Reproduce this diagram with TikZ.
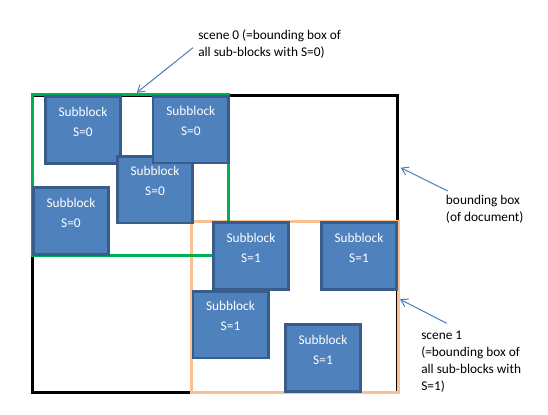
\documentclass[tikz,border=0pt]{standalone}
\usepackage{fontspec}
\setmainfont{Carlito}
\usetikzlibrary{arrows.meta}
\definecolor{blkfill}{HTML}{4F81BD}
\definecolor{blkline}{HTML}{385D8A}
\definecolor{ptrcol}{HTML}{4A7EBB}
\definecolor{scenegreen}{HTML}{00B050}
\definecolor{sceneorange}{HTML}{FAC090}
\tikzset{
  subblock/.style={draw=blkline, fill=blkfill, line width=1.9pt, minimum width=56.6pt, minimum height=49.9pt, inner sep=0pt},
  blocktext/.style={text=white, align=center, inner sep=0pt, font=\fontsize{10}{15}\selectfont},
  note/.style={text=black, align=left, inner sep=0pt, anchor=west, font=\fontsize{10}{12.8}\selectfont},
  boxline/.style={line width=2.25pt},
  pointer/.style={draw=ptrcol, line width=0.75pt, -{Straight Barb[length=5pt,width=6.5pt]}}
}
\begin{document}
\begin{tikzpicture}[x=0.75pt,y=-0.75pt]
\useasboundingbox (0,0) rectangle (548,414);
% bounding box of document
\draw[boxline, black] (32.5,95) rectangle (397.5,392);
% scene 1 box
\draw[boxline, sceneorange] (191.7,221) rectangle (398,392);
% scene 0 box
\draw[boxline, scenegreen] (32.5,94) rectangle (228.8,255);
% subblocks S=0
\node[subblock] (b1) at (83,130) {};
\node[blocktext] (t1) at (83,121.5) {Subblock\\S=0};
\node[subblock] (b3) at (155,189.5) {};
\node[blocktext] (t3) at (155,181) {Subblock\\S=0};
\node[subblock] (b2) at (190.8,129.5) {};
\node[blocktext] (t2) at (190.8,121) {Subblock\\S=0};
\node[subblock] (b4) at (71,221) {};
\node[blocktext] (t4) at (71,212.5) {Subblock\\S=0};
% subblocks S=1
\node[subblock] (b5) at (251,256) {};
\node[blocktext] (t5) at (251,247.5) {Subblock\\S=1};
\node[subblock] (b6) at (359,256) {};
\node[blocktext] (t6) at (359,247.5) {Subblock\\S=1};
\node[subblock] (b7) at (230.5,324.5) {};
\node[blocktext] (t7) at (230.5,316) {Subblock\\S=1};
\node[subblock] (b8) at (323,358) {};
\node[blocktext] (t8) at (323,349.5) {Subblock\\S=1};
% annotations
\node[note] (s0) at (198,44.4) {scene 0 (=bounding box of\\all sub-blocks with S=0)};
\node[note] (bb) at (445.7,209.3) {bounding box\\(of document)};
\node[note] (s1) at (421,361.3) {scene 1\\(=bounding box of\\all sub-blocks with\\S=1)};
% pointer ends
\coordinate (s0a) at (193,47.7);
\coordinate (s0b) at (136.7,92.7);
\coordinate (bba) at (447.7,191);
\coordinate (bbb) at (400.7,167.7);
\coordinate (s1a) at (446.7,323.3);
\coordinate (s1b) at (400,299.3);
\draw[pointer] (s0a) -- (s0b);
\draw[pointer] (bba) -- (bbb);
\draw[pointer] (s1a) -- (s1b);
\end{tikzpicture}
\end{document}
